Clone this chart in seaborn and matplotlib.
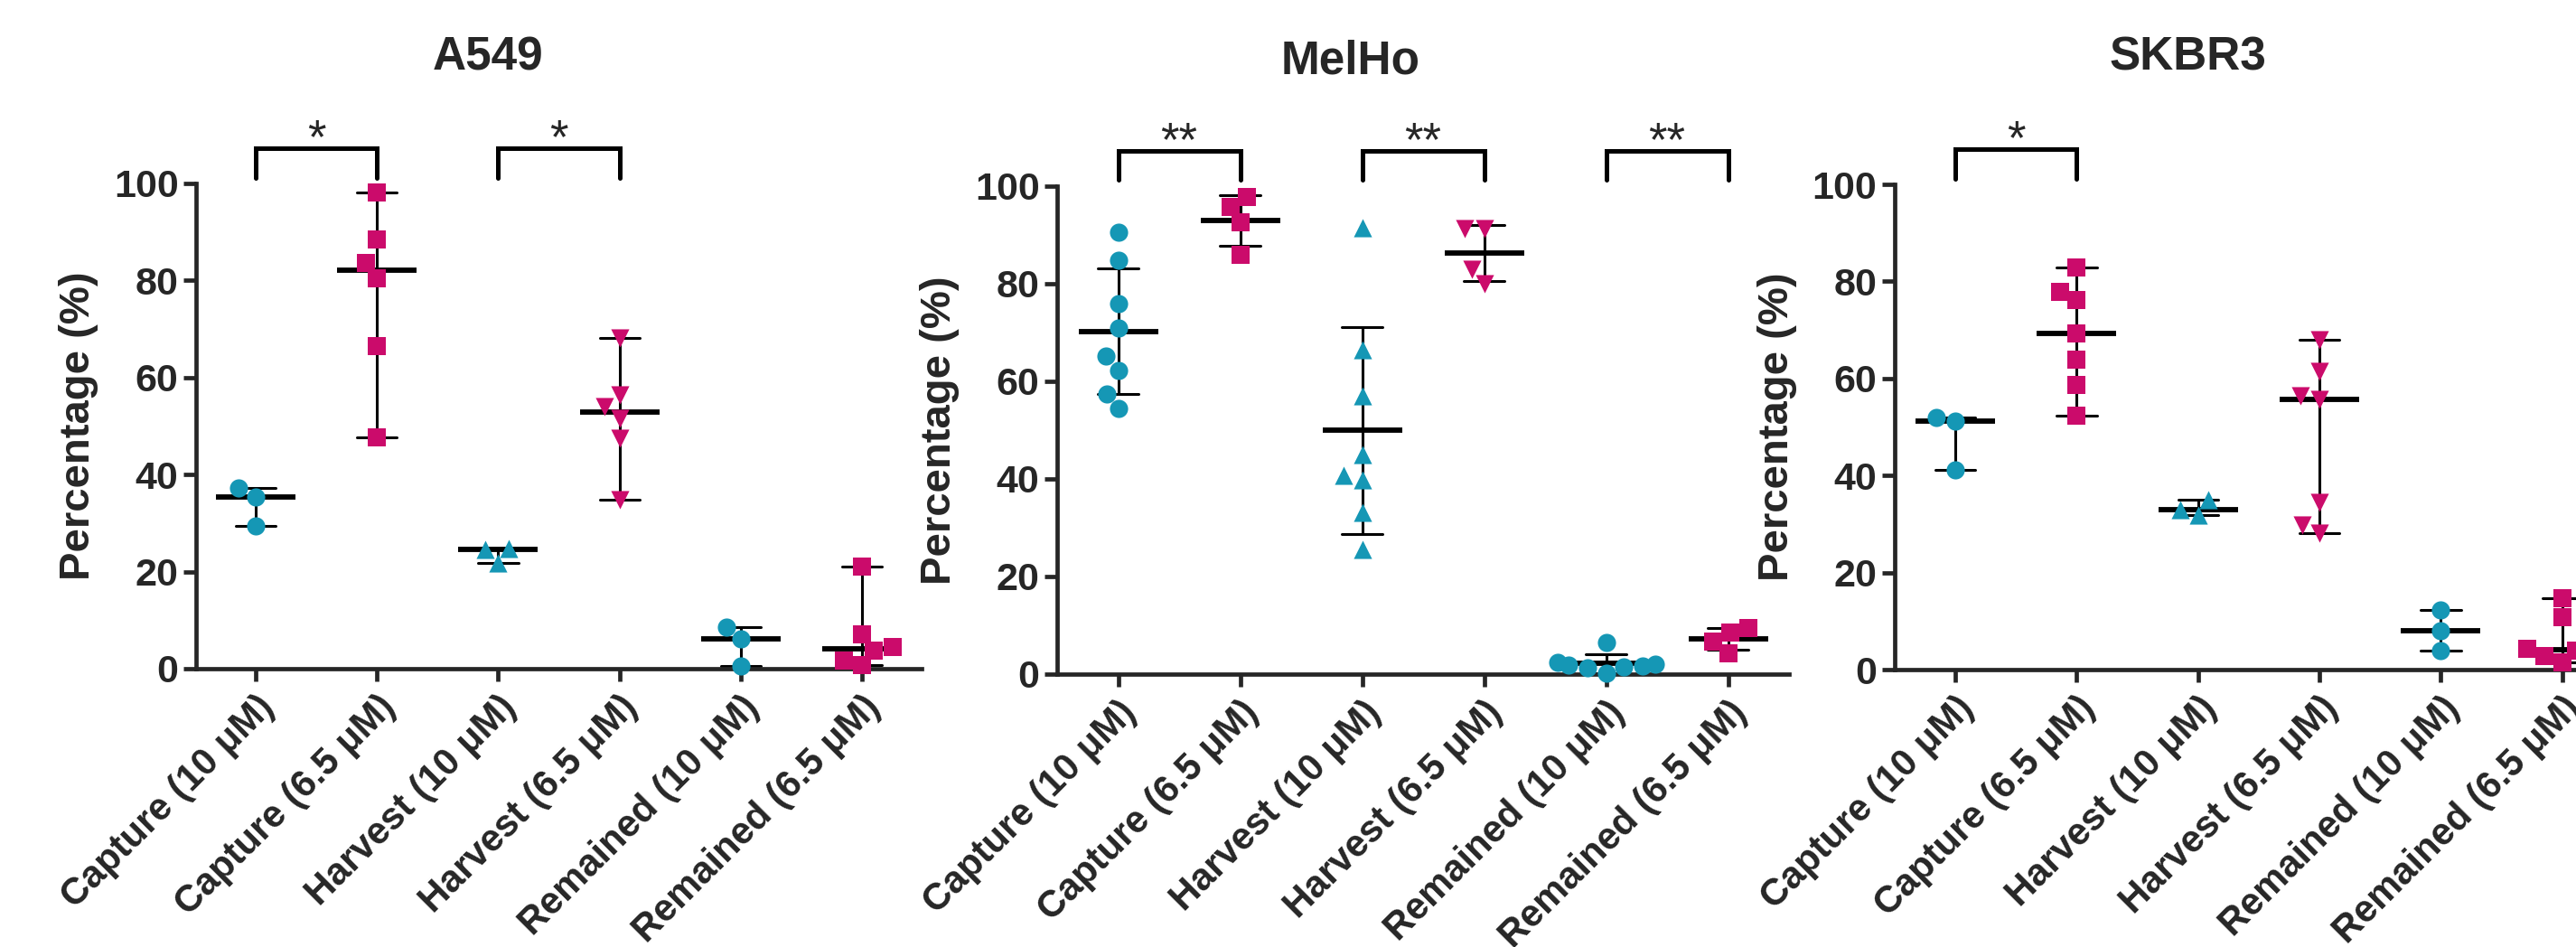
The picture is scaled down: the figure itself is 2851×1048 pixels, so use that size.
import numpy as np
import pandas as pd
import seaborn as sns
import matplotlib.pyplot as plt

groups = ["Capture (10 μM)", "Capture (6.5 μM)", "Harvest (10 μM)",
          "Harvest (6.5 μM)", "Remained (10 μM)", "Remained (6.5 μM)"]

# A549 (median with range)
a549_capture_10 = [37.2, 35.4, 29.4]
a549_capture_65 = [98.1, 88.4, 83.6, 80.5, 66.5, 47.6]
a549_harvest_10 = [24.8, 24.5, 21.7]
a549_harvest_65 = [68.2, 56.5, 54.0, 51.6, 47.5, 34.8]
a549_remained_10 = [8.6, 6.1, 0.6]
a549_remained_65 = [21.0, 7.0, 4.4, 3.8, 1.7, 0.8]

# MelHo (mean with SD)
melho_capture_10 = [90.5, 84.8, 75.9, 71.0, 65.2, 62.3, 57.4, 54.4]
melho_capture_65 = [97.7, 95.7, 92.5, 86.0]
melho_harvest_10 = [91.4, 66.5, 57.0, 45.0, 40.7, 39.8, 33.2, 25.6]
melho_harvest_65 = [91.2, 91.2, 82.9, 80.0]
melho_remained_10 = [6.5, 2.4, 2.0, 1.8, 1.6, 1.4, 1.2, 0.1]
melho_remained_65 = [9.4, 8.6, 6.7, 4.3]

# SKBR3 (median with range)
skbr3_capture_10 = [51.9, 51.3, 41.2]
skbr3_capture_65 = [82.9, 77.8, 76.1, 69.2, 63.9, 58.7, 52.3]
skbr3_harvest_10 = [35.0, 33.0, 31.8]
skbr3_harvest_65 = [67.9, 61.5, 56.5, 55.7, 34.5, 29.8, 28.2]
skbr3_remained_10 = [12.3, 8.0, 4.0]
skbr3_remained_65 = [14.8, 10.9, 4.3, 4.1, 4.0, 2.8, 1.5]

teal = "#1597b5"
magenta = "#cb0b6b"
group_colors = [teal, magenta, teal, magenta, teal, magenta]
group_markers = ["o", "s", "^", "v", "o", "s"]


def make_df(series):
    rows = []
    for g, vals in zip(groups, series):
        for v in vals:
            rows.append({"group": g, "value": v})
    return pd.DataFrame(rows)


panels = [
    {"name": "A549",
     "series": [a549_capture_10, a549_capture_65, a549_harvest_10,
                a549_harvest_65, a549_remained_10, a549_remained_65],
     "est": "median", "err": ("pi", 100),
     "stars": [(0, 1, "*"), (2, 3, "*")],
     "rect": [0.0761, 0.2939, 0.2817, 0.5124], "xlim": (-0.49, 5.49),
     "title": (0.1894, 0.9265)},
    {"name": "MelHo",
     "series": [melho_capture_10, melho_capture_65, melho_harvest_10,
                melho_harvest_65, melho_remained_10, melho_remained_65],
     "est": "mean", "err": "sd",
     "stars": [(0, 1, "**"), (2, 3, "**"), (4, 5, "**")],
     "rect": [0.4104, 0.2882, 0.2841, 0.5153], "xlim": (-0.5, 5.5),
     "title": (0.5244, 0.9218)},
    {"name": "SKBR3",
     "series": [skbr3_capture_10, skbr3_capture_65, skbr3_harvest_10,
                skbr3_harvest_65, skbr3_remained_10, skbr3_remained_65],
     "est": "median", "err": ("pi", 100),
     "stars": [(0, 1, "*")],
     "rect": [0.7355, 0.2929, 0.2827, 0.5124], "xlim": (-0.5, 5.5),
     "title": (0.8495, 0.9265)},
]

sns.set_style("ticks")
plt.rcParams["font.family"] = ["Liberation Sans", "DejaVu Sans"]

fig = plt.figure(figsize=(28.51, 10.48), dpi=100)

for p in panels:
    ax = fig.add_axes(p["rect"])
    df = make_df(p["series"])

    # scatter of the individual points, one call per group for its own marker
    for g, c, m in zip(groups, group_colors, group_markers):
        sns.swarmplot(data=df[df["group"] == g], x="group", y="value",
                      order=groups, color=c, marker=m, size=14.5,
                      linewidth=0, ax=ax)
    for coll in ax.collections:
        coll.set_clip_on(False)

    # centre line + error bars
    sns.pointplot(data=df, x="group", y="value", order=groups,
                  estimator=p["est"], errorbar=p["err"], color="black",
                  marker="_", markersize=64, markeredgewidth=4.2,
                  linestyle="none", capsize=0.33,
                  err_kws={"linewidth": 2.2}, ax=ax)

    ax.set_xlim(*p["xlim"])
    ax.set_ylim(0, 100)
    ax.set_yticks(range(0, 101, 20))
    sns.despine(ax=ax)
    for side in ["left", "bottom"]:
        ax.spines[side].set_linewidth(3.4)
    ax.tick_params(axis="both", width=3.4, length=10, direction="out")
    ax.tick_params(axis="y", labelsize=31, pad=4)
    ax.tick_params(axis="x", labelsize=30, pad=6)
    ax.set_xticks(range(len(groups)))
    ax.set_xticklabels(groups, rotation=45, ha="right",
                       rotation_mode="anchor", fontweight="bold")
    for lab in ax.get_yticklabels():
        lab.set_fontweight("bold")
    ax.set_xlabel("")
    ax.set_ylabel("Percentage (%)", fontsize=34, fontweight="bold",
                  labelpad=12)

    # significance brackets
    for i, j, s in p["stars"]:
        ax.plot([i, i, j, j], [101.2, 107.3, 107.3, 101.2], color="black",
                lw=3.6, clip_on=False, solid_joinstyle="miter")
        ax.text((i + j) / 2, 106.3, s, ha="center", va="baseline",
                fontsize=38, clip_on=False)

    fig.text(p["title"][0], p["title"][1], p["name"], ha="center",
             va="baseline", fontsize=37, fontweight="bold")

fig.savefig("out.png", dpi=100)
